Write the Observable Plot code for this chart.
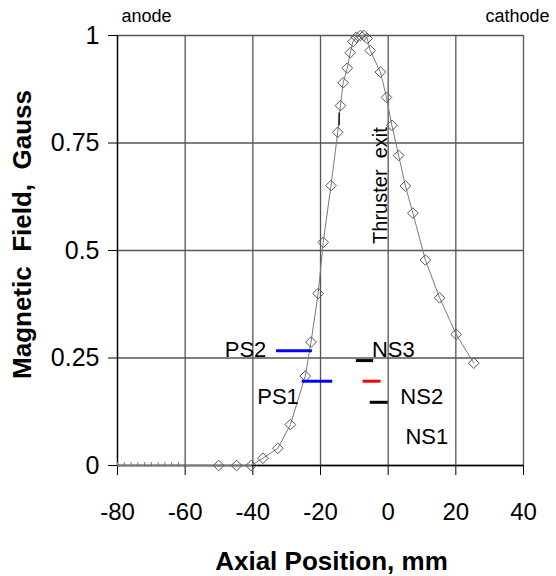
<!DOCTYPE html>
<html><head><meta charset="utf-8">
<script src="https://cdn.jsdelivr.net/npm/d3@7"></script>
<script src="https://cdn.jsdelivr.net/npm/@observablehq/plot@0.6"></script>
<style>body{margin:0;background:#fff} svg text{white-space:pre}</style>
</head><body><div id="chart"></div>
<script>
// ---- data ----
const xTicks = [-80, -60, -40, -20, 0, 20, 40];
const xTickLabels = ["-80", "-60", "-40", "-20", "0", "20", "40"];
const yTicks = [0, 0.25, 0.5, 0.75, 1];
const yTickLabels = ["0", "0.25", "0.5", "0.75", "1"];

// dense zero-field samples at the anode end (tiny markers)
const baseX = [-80, -78, -76, -74, -72, -70, -68, -66, -64, -62];

// measured profile (diamonds)
const posX = [-50.1, -44.8, -40.5, -37.0, -32.6, -28.9, -24.5, -22.8, -20.7, -19.2, -16.9, -14.9, -14.1, -13.3, -12.1, -11.2, -10.4, -9.4, -8.2, -7.2, -6.2, -5.3, -2.3, -0.5, 1.1, 3.1, 5.1, 7.3, 11.0, 15.2, 20.1, 25.3];
const field = [0, 0, 0, 0.017, 0.040, 0.095, 0.208, 0.287, 0.400, 0.519, 0.651, 0.775, 0.837, 0.890, 0.924, 0.960, 0.986, 0.996, 1.0, 1.0, 0.993, 0.965, 0.915, 0.856, 0.791, 0.721, 0.650, 0.587, 0.478, 0.390, 0.305, 0.238];

// probe positions
const probeNames = ["PS2", "PS1", "NS3", "NS2", "NS1"];
const probeX1 = [-33.0, -25.4, -9.4, -7.4, -5.3];
const probeX2 = [-22.4, -16.4, -4.3, -2.1, 0.0];
const probeY = [0.267, 0.196, 0.244, 0.196, 0.147];
const probeColor = ["#0000ff", "#0000ff", "#000000", "#ff0000", "#000000"];
const labelX = [-36.0, -38.7, -4.8, 3.6, 5.1];
const labelY = [0.253, 0.142, 0.253, 0.142, 0.049];
const labelAnchor = ["end", "start", "start", "start", "start"];

// short dark segment on the rising side
const markX = [-14.5];
const markY1 = [0.79];
const markY2 = [0.82];

const exitLabel = ["Thruster  exit"];
const exitX = [-0.3];
const exitY = [0.651];

const xTitle = "Axial Position, mm";
const yTitle = "Magnetic  Field,  Gauss";

// ---- build ----
const FONT = "'Liberation Sans', Arial, Helvetica, sans-serif";
const lineData = baseX.map(x => ({x, y: 0})).concat(posX.map((x, i) => ({x, y: field[i]})));
const dots = posX.map((x, i) => ({x, y: field[i]}));
const probes = probeNames.map((n, i) => ({n, x1: probeX1[i], x2: probeX2[i], y: probeY[i], c: probeColor[i], lx: labelX[i], ly: labelY[i], a: labelAnchor[i]}));

const chart = Plot.plot({
  width: 556,
  height: 576,
  marginLeft: 117,
  marginRight: 33,
  marginTop: 35,
  marginBottom: 111,
  style: {fontFamily: FONT, background: "#fff", color: "#000"},
  x: {domain: [-80, 40]},
  y: {domain: [0, 1]},
  marks: [
    Plot.gridX(xTicks, {stroke: "#555", strokeOpacity: 1, strokeWidth: 1.3}),
    Plot.gridY(yTicks, {stroke: "#555", strokeOpacity: 1, strokeWidth: 1.3}),
    Plot.ruleX([-80], {stroke: "#000", strokeWidth: 1.3}),
    Plot.ruleY([0], {stroke: "#000", strokeWidth: 1.3}),
    Plot.axisX({ticks: xTicks, tickSize: 10, tickPadding: 27, fontSize: 24, label: null,
      tickFormat: d => xTickLabels[xTicks.indexOf(d)]}),
    Plot.axisY({ticks: yTicks, tickSize: 9, tickPadding: 9, fontSize: 25, label: null,
      tickFormat: d => yTickLabels[yTicks.indexOf(d)]}),
    Plot.line(lineData, {x: "x", y: "y", stroke: "#7a7a7a", strokeWidth: 1}),
    Plot.ruleX(baseX, {x: d => d, y1: 0, y2: 0.007, stroke: "#777", strokeWidth: 1}),
    Plot.ruleX(markX, {x: d => d, y1: (d, i) => markY1[i], y2: (d, i) => markY2[i], stroke: "#000", strokeWidth: 1.3}),
    Plot.dot(dots, {x: "x", y: "y", symbol: "diamond2", r: 4.8, stroke: "#555", strokeWidth: 1, fill: "none"}),
    Plot.ruleY(probes, {x1: "x1", x2: "x2", y: "y", stroke: "c", strokeWidth: 3}),
    Plot.text(probes.filter(d => d.a === "end"), {x: "lx", y: "ly", text: "n", textAnchor: "end", lineAnchor: "bottom", fontSize: 22, fill: "#000"}),
    Plot.text(probes.filter(d => d.a === "start"), {x: "lx", y: "ly", text: "n", textAnchor: "start", lineAnchor: "bottom", fontSize: 22, fill: "#000"}),
    Plot.text(exitLabel, {x: exitX, y: exitY, text: d => d, rotate: -90, textAnchor: "middle", lineAnchor: "bottom", fontSize: 20, fill: "#000"}),
    Plot.text(["anode"], {frameAnchor: "top-left", textAnchor: "start", lineAnchor: "bottom", dx: 4, dy: -14, fontSize: 18, fill: "#000"}),
    Plot.text(["cathode"], {frameAnchor: "top-right", textAnchor: "end", lineAnchor: "bottom", dx: 26, dy: -14, fontSize: 18, fill: "#000"}),
    Plot.text([xTitle], {frameAnchor: "bottom", textAnchor: "middle", lineAnchor: "bottom", dx: 11, dy: 104, fontSize: 26, fontWeight: "bold", fill: "#000"}),
    Plot.text([yTitle], {frameAnchor: "left", textAnchor: "middle", lineAnchor: "middle", rotate: -90, dx: -95, dy: -16, fontSize: 26, fontWeight: "bold", fill: "#000"})
  ]
});
d3.select(chart).selectAll("text").attr("xml:space", "preserve");
document.getElementById("chart").appendChild(chart);
</script>
</body></html>
